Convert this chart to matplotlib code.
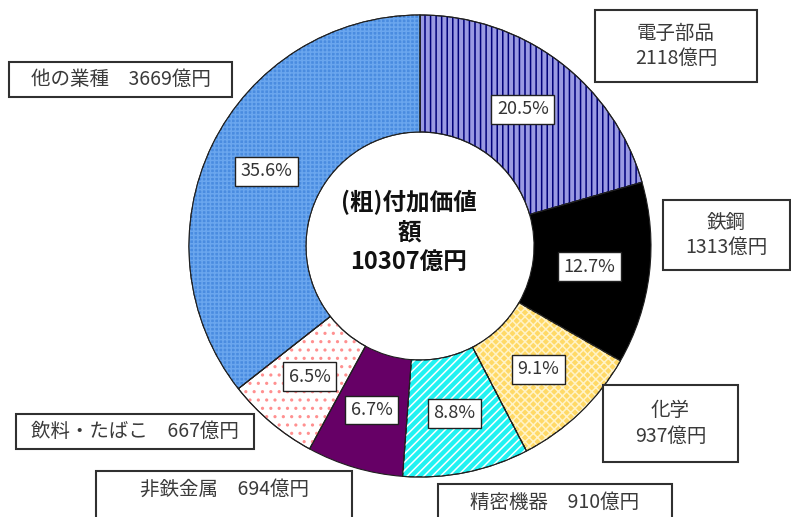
import matplotlib.pyplot as plt
from matplotlib.patches import Wedge, Rectangle

plt.rcParams['font.family'] = ['Noto Sans CJK JP', 'DejaVu Sans']
plt.rcParams['hatch.linewidth'] = 1.1

# data
categories = ['電子部品', '鉄鋼', '化学', '精密機器', '非鉄金属', '飲料・たばこ', '他の業種']
values = [2118, 1313, 937, 910, 694, 667, 3669]
total_label = '(粗)付加価値\n額\n10307億円'

face_colors = ['#9a9ae2', '#000000', '#ffd966', '#22f2f2', '#660066', '#ffffff', '#4a8ce0']
hatches = ['|||', None, 'xxxx', '////', None, '..', '++++']
hatch_colors = ['#00007a', None, '#fff3c8', '#ffffff', None, '#ff9090', '#6aa6ee']

# label boxes in image pixels: (x0, y0, x1, y1), text
boxes = [
    ((595, 10, 757, 82), '電子部品\n2118億円'),
    ((663, 200, 790, 270), '鉄鋼\n1313億円'),
    ((603, 385, 738, 462), '化学\n937億円'),
    ((438, 484, 672, 530), '精密機器　910億円'),
    ((96, 471, 352, 530), '非鉄金属　694億円'),
    ((16, 414, 254, 449), '飲料・たばこ　667億円'),
    ((9, 62, 232, 97), '他の業種　3669億円'),
]

W, H = 791, 517
fig = plt.figure(figsize=(W / 100, H / 100), dpi=100)
ax = fig.add_axes([0, 0, 1, 1])

cx, cy, R = 420, H - 246, 231

wedges, texts, autotexts = ax.pie(
    values, startangle=90, counterclock=False, radius=R, center=(cx, cy),
    colors=face_colors, autopct='%.1f%%', pctdistance=0.74,
    wedgeprops=dict(width=117, edgecolor='#202020', linewidth=0.8),
    textprops=dict(fontsize=13, color='#333333'),
    frame=True)
ax.set_xlim(0, W)
ax.set_ylim(0, H)
ax.set_aspect('equal')
ax.axis('off')

for w, h, hc in zip(wedges, hatches, hatch_colors):
    if h is None:
        continue
    ax.add_patch(Wedge(w.center, w.r, w.theta1, w.theta2, width=w.width,
                       fill=False, hatch=h, edgecolor=hc, linewidth=0, zorder=w.get_zorder() + 0.1))
    ax.add_patch(Wedge(w.center, w.r, w.theta1, w.theta2, width=w.width,
                       fill=False, edgecolor='#202020', linewidth=0.8, zorder=w.get_zorder() + 0.2))

for t in autotexts:
    t.set_zorder(5)
    t.set_bbox(dict(boxstyle='square,pad=0.3', facecolor='white', edgecolor='#202020', linewidth=1.0))

ax.text(409, H - 232, total_label, ha='center', va='center', fontsize=17,
        fontweight='bold', color='#111111', linespacing=1.3, zorder=6)

for (x0, y0, x1, y1), txt in boxes:
    ax.add_patch(Rectangle((x0, H - y1), x1 - x0, y1 - y0, facecolor='white',
                           edgecolor='#303030', linewidth=1.5, zorder=4))
    yc = (y0 + y1) / 2 if y1 <= H else y0 + 18
    ax.text((x0 + x1) / 2, H - yc, txt, ha='center', va='center', fontsize=14,
            color='#3a3a3a', linespacing=1.25, zorder=5)

fig.savefig('out.png', dpi=100)
